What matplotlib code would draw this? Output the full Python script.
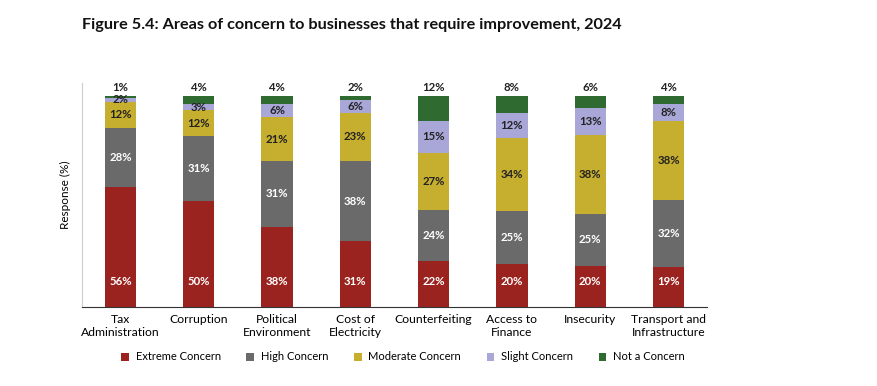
import matplotlib
matplotlib.use("Agg")
import matplotlib.pyplot as plt
import numpy as np

categories = ["Tax\nAdministration", "Corruption", "Political\nEnvironment", "Cost of\nElectricity",
              "Counterfeiting", "Access to\nFinance", "Insecurity", "Transport and\nInfrastructure"]
extreme = [56, 50, 38, 31, 22, 20, 20, 19]
high = [28, 31, 31, 38, 24, 25, 25, 32]
moderate = [12, 12, 21, 23, 27, 34, 38, 38]
slight = [2, 3, 6, 6, 15, 12, 13, 8]
not_concern = [1, 4, 4, 2, 12, 8, 6, 4]
series_names = ["Extreme Concern", "High Concern", "Moderate Concern", "Slight Concern", "Not a Concern"]

colors = ["#9B231F", "#6A6A6A", "#C6AE2F", "#A9A6D8", "#2F6B30"]
label_colors = ["white", "white", "#222222", "#222222", None]

plt.rcParams['font.family'] = ['Lato', 'DejaVu Sans']

fig = plt.figure(figsize=(8.77, 3.86), dpi=100)
ax = fig.add_axes([82 / 877, 1 - 307 / 386, (707 - 82) / 877, (307 - 83) / 386])

x = np.arange(len(categories))
data = np.array([extreme, high, moderate, slight, not_concern], dtype=float)
totals = data.sum(axis=0)
shares = data / totals * 100  # 100% stacked
bottom = np.zeros(len(categories))
for i, (vals, raw, name, c) in enumerate(zip(shares, data, series_names, colors)):
    ax.bar(x, vals, 0.4, bottom=bottom, color=c, label=name, zorder=2)
    for j, v in enumerate(vals):
        if i < 4:
            yy = bottom[j] + v / 2
            if i == 0:
                yy = 12
            ax.text(x[j], yy, f"{int(raw[j])}%", ha='center', va='center', fontsize=8.2,
                    fontweight='bold', color=label_colors[i])
        else:
            ax.text(x[j], bottom[j] + v + 1.5, f"{int(raw[j])}%", ha='center', va='bottom',
                    fontsize=8.2, fontweight='bold', color="#222222")
    bottom += vals

ax.set_xlim(-0.49, 7.49)
ax.set_ylim(0, 106)
ax.set_yticks([])
ax.set_xticks(x)
ax.set_xticklabels(categories, fontsize=8.7, va='top', linespacing=1.2)
ax.tick_params(axis='x', length=0, pad=5)
ax.spines['top'].set_visible(False)
ax.spines['right'].set_visible(False)
ax.spines['left'].set_color('#CCCCCC')
ax.spines['bottom'].set_color('#333333')
ax.set_ylabel("Response (%)", fontsize=8.5, labelpad=8)

fig.text(82 / 877, 1 - 25 / 386, "Figure 5.4: Areas of concern to businesses that require improvement, 2024",
         fontsize=11.7, fontweight='bold', va='center', ha='left', color='#111111')

fig.legend(loc='center', bbox_to_anchor=(403 / 877, 1 - 357 / 386), ncol=5, frameon=False,
           fontsize=8, handlelength=0.7, handleheight=0.7, columnspacing=2.3, handletextpad=0.6)

fig.savefig("out.png", dpi=100)
